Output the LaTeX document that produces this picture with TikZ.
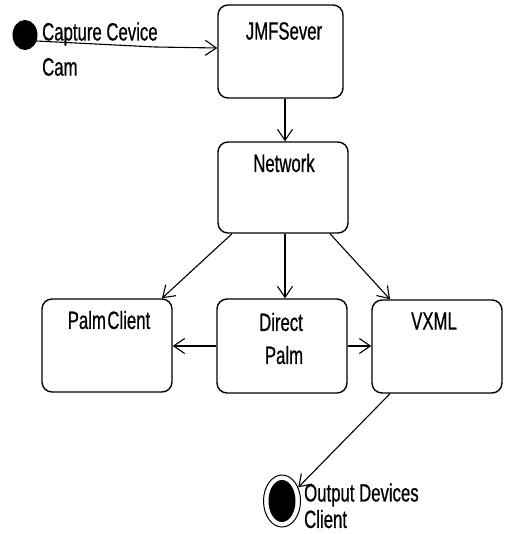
\documentclass[tikz,border=0pt]{standalone}
\usepackage{fontspec}
\setmainfont[FakeStretch=0.67,FakeBold=0.6]{Liberation Sans}
\usetikzlibrary{arrows.meta,shapes.geometric}
\tikzset{
  box/.style={draw, line width=1.4pt, rounded corners=10pt, inner sep=0pt},
  lbl/.style={inner sep=0pt, font=\fontsize{25}{29}\selectfont},
  conn/.style={line width=1.1pt, -{Straight Barb[length=11pt,width=15pt,line width=1.1pt]}},
}
\begin{document}
\begin{tikzpicture}[x=1pt,y=-1pt]
\useasboundingbox (0,0) rectangle (504,534);
% boxes
\node[box, minimum width=125pt, minimum height=93pt] (jmf) at (280.5,51.5) {};
\node[box, minimum width=130pt, minimum height=91pt] (net) at (283,187.5) {};
\node[box, minimum width=130pt, minimum height=93pt] (palm) at (107,345.5) {};
\node[box, minimum width=130pt, minimum height=94pt] (dp) at (282,346) {};
\node[box, minimum width=130pt, minimum height=93pt] (vxml) at (437,346.5) {};
% labels
\node[lbl] (tjmf) at (284,31) {JMFSever};
\node[lbl] (tnet) at (284,163) {Network};
\node[lbl] (tpalm) at (109,320) {Palm\kern1.5pt Client};
\node[lbl] (tdir) at (281,322) {Direct};
\node[lbl] (tdp) at (284,355) {Palm};
\node[lbl] (tvx) at (434,321) {VXML};
% start / end
\node[ellipse, fill=black, minimum width=25pt, minimum height=30pt, inner sep=0pt] (start) at (25,35) {};
\node[ellipse, draw, line width=1pt, minimum width=37pt, minimum height=52pt, inner sep=0pt] (endo) at (282,501) {};
\node[ellipse, fill=black, minimum width=27pt, minimum height=42pt, inner sep=0pt] (endi) at (282,501) {};
\node[lbl, anchor=west] (tcap) at (42,34) {Capture Cevice};
\node[lbl, anchor=west] (tcam) at (42,67) {Cam};
\node[lbl, anchor=west] (tout) at (304,495) {Output Devices};
\node[lbl, anchor=west] (tcli) at (304,519) {Client};
% connectors
\coordinate (s1) at (36,41);
\coordinate (s2) at (155,47);
\draw[conn] (s1) -- (s2) -- (jmf.west |- 0,48);
\draw[conn] (jmf.south -| 285,0) -- (net.north -| 285,0);
\draw[conn] (net.south -| 232,0) -- (palm.north -| 162,0);
\draw[conn] (net.south -| 285,0) -- (dp.north -| 285,0);
\draw[conn] (net.south -| 330,0) -- (vxml.north -| 390,0);
\draw[conn] (dp.west |- 0,346) -- (palm.east |- 0,346);
\draw[conn] (dp.east |- 0,346) -- (vxml.west |- 0,346);
\draw[conn] (vxml.south -| 390,0) -- (endo.40);
\end{tikzpicture}
\end{document}
